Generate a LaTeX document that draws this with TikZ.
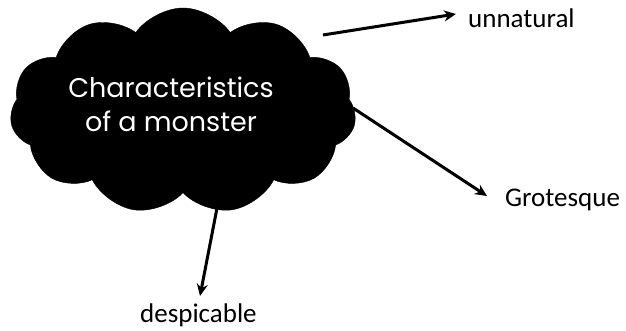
\documentclass[tikz,border=0pt]{standalone}
\usepackage{fontspec}
\setmainfont{Carlito}
\newfontfamily\cloudfont{Poppins}
\usetikzlibrary{shapes.symbols,arrows.meta}
\begin{document}
\begin{tikzpicture}[x=1pt,y=-1pt,
  arr/.style={line width=3pt,-{Stealth[length=12pt,width=11pt]}},
  lab/.style={font=\fontsize{27}{32}\selectfont,inner sep=0pt,anchor=base west}]
\useasboundingbox (0,0) rectangle (626,331);
\node[cloud,cloud puffs=11,cloud puff arc=110,aspect=1.7,fill=black,draw=black,
  minimum width=346pt,minimum height=206pt,inner sep=0pt] (c) at (183,111) {};
\node[text=white,align=center,font=\cloudfont\fontsize{27}{34}\selectfont] (t) at (171,104)
  {Characteristics\\of a monster};
\node[lab] (u) at (468,28) {unnatural};
\node[lab] (g) at (505,207) {Grotesque};
\node[lab] (d) at (140,322) {despicable};
\coordinate (s1) at (323,35);
\coordinate (s2) at (353,108);
\coordinate (s3) at (218,203);
\draw[arr] (s1) -- ([xshift=-12pt,yshift=14pt]u.base west);
\draw[arr] (s2) -- ([xshift=-18pt,yshift=11pt]g.base west);
\draw[arr] (s3) -- ([xshift=60pt,yshift=26pt]d.base west);
\end{tikzpicture}
\end{document}
